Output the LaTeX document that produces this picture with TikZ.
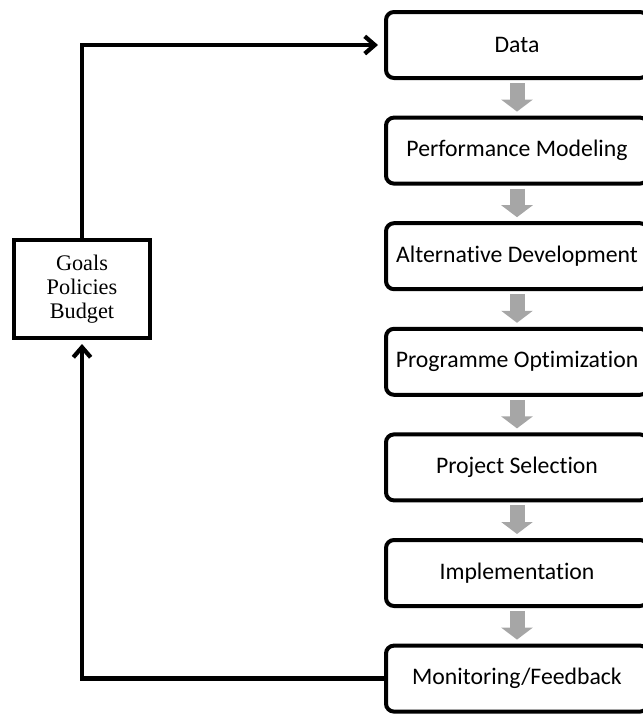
\documentclass[tikz,border=0pt]{standalone}
\usepackage{fontspec}
\setmainfont[Ligatures=NoCommon]{Carlito}
\newfontfamily\timesfont{Liberation Serif}
\usepackage{tikz}
\usetikzlibrary{arrows.meta}
\usetikzlibrary{calc}

\tikzset{
    stepbox/.style = {draw, line width=3pt, rounded corners=6pt, minimum width=196.5pt,
                      minimum height=49.5pt, font=\fontsize{17.8}{21}\selectfont},
    goalbox/.style = {draw, line width=3pt, minimum width=102pt, minimum height=73.5pt,
                      align=center, font=\timesfont\fontsize{16.7}{18}\selectfont},
    flow/.style    = {line width=11.25pt, color=black!35, shorten <=2.25pt, shorten >=3pt,
                      -{Triangle[width=23.25pt,length=9pt]}},
    link/.style    = {line width=3.2pt, -{Straight Barb[length=7.5pt,width=13pt]}}
}

\begin{document}
\begin{tikzpicture}[x=0.75pt,y=-0.75pt]
    \useasboundingbox (0,0) rectangle (643,715);

    % the steps of the process
    \node [stepbox] (data) at (517,45)    {Data};
    \node [stepbox] (perf) at (517,150.6) {Performance Modeling};
    \node [stepbox] (alt)  at (517,256.2) {Alternative Development};
    \node [stepbox] (prog) at (517,361.8) {Programme Optimization};
    \node [stepbox] (proj) at (517,467.4) {Project Selection};
    \node [stepbox] (impl) at (517,573)   {Implementation};
    \node [stepbox] (mon)  at (517,678.6) {Monitoring/Feedback};

    % left box
    \node [goalbox] (goals) at (82,289) {Goals\\Policies\\Budget};

    % gray arrows between the steps
    \foreach \a/\b in {data/perf, perf/alt, alt/prog, prog/proj, proj/impl, impl/mon} {
        \draw [flow] (\a.south) -- (\b.north);
    }

    % Draw the feedback loop
    \draw [link, shorten >=3pt] (mon.west) -| (goals.south);
    \draw [link, shorten >=4.5pt] (goals.north) |- (data.west);
\end{tikzpicture}
\end{document}
